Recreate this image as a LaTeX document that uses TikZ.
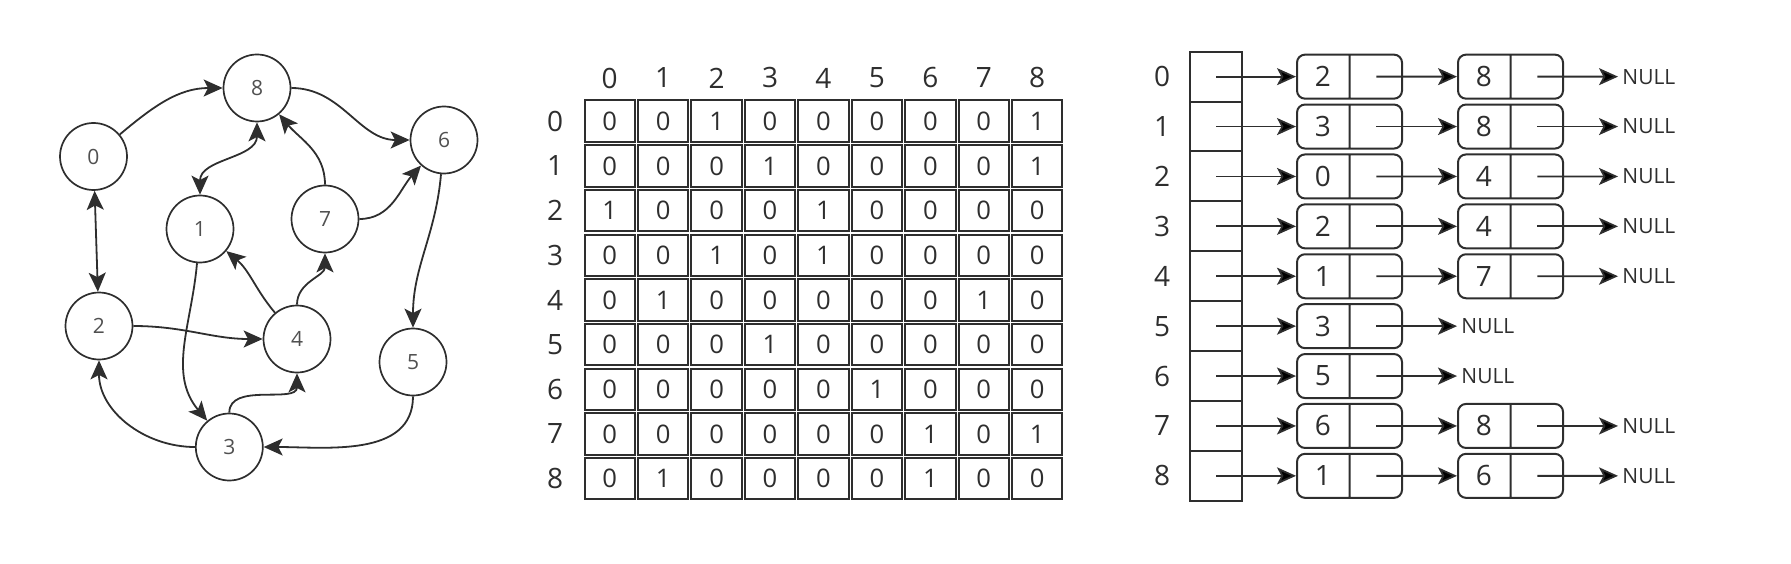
\documentclass[tikz,border=0pt]{standalone}
\usepackage{fontspec}
\setmainfont{Open Sans}
\usetikzlibrary{arrows.meta}
\usetikzlibrary{shapes.multipart}
\usetikzlibrary{positioning}
\usetikzlibrary{calc}

\definecolor{ink}{HTML}{2E2E2E}
\definecolor{softink}{HTML}{505050}

\newcommand\graphfont{\fontsize{10.5}{12}\selectfont}
\newcommand\cellfont{\fontsize{12.8}{14}\selectfont}
\newcommand\indexfont{\fontsize{14}{16}\selectfont}
\newcommand\nilfont{\fontsize{10.5}{12}\selectfont}

\begin{document}
\begin{tikzpicture}[x=0.5pt,y=0.5pt,>={Stealth[length=9.5pt,width=8.5pt,inset=2.2pt]}]
        \tikzstyle{vertex}=[draw=ink, line width=0.85pt, circle, minimum size=33.5pt, inner sep=0pt, text=softink, font=\graphfont]
        \tikzstyle{arc}=[->, draw=ink, line width=0.9pt]
        \tikzstyle{cell}=[draw=ink, line width=1pt, minimum width=25.2pt, minimum height=20.8pt, inner sep=0pt, text=ink, font=\cellfont]
        \tikzstyle{index}=[inner sep=0pt, text=ink, font=\indexfont]
        \tikzstyle{slot}=[draw=ink, line width=1pt, minimum width=26pt, minimum height=24.95pt, inner sep=0pt]
        \tikzstyle{lnode}=[draw=ink, line width=1pt, rounded corners=4pt, rectangle split, rectangle split horizontal, rectangle split parts=2, inner xsep=0pt, inner ysep=0pt, text width=25.75pt, align=center, minimum height=22pt, text=ink, font=\indexfont]
        \tikzstyle{nil}=[inner sep=2pt, text=ink, font=\nilfont]
        \tikzstyle{link}=[->, draw=ink, line width=0.9pt]
        \useasboundingbox (0,0) rectangle (1791,563);

        % graph
        \node[vertex] (n0) at (93.5,406.5) {0};
        \node[vertex] (n8) at (257,475) {8};
        \node[vertex] (n6) at (444,423) {6};
        \node[vertex] (n1) at (200,334) {1};
        \node[vertex] (n7) at (325,344) {7};
        \node[vertex] (n2) at (99,237) {2};
        \node[vertex] (n4) at (297,224) {4};
        \node[vertex] (n5) at (413,201) {5};
        \node[vertex] (n3) at (229.3,116) {3};
        \draw[arc] (n0) to[out=40,in=180] (n8);
        \draw[arc,<->] (n0) -- (n2);
        \draw[arc,<->] (n8) to[out=-90,in=90] (n1);
        \draw[arc] (n8) to[out=0,in=180] (n6);
        \draw[arc] (n7) to[out=90,in=-50] (n8);
        \draw[arc] (n7) to[out=0,in=-132] (n6);
        \draw[arc] (n6) to[out=-95,in=90] (n5);
        \draw[arc] (n1) to[out=-95,in=130] (n3);
        \draw[arc] (n2) to[out=0,in=180] (n4);
        \draw[arc] (n4) to[out=130,in=-40] (n1);
        \draw[arc] (n4) to[out=90,in=-90] (n7);
        \draw[arc] (n3) to[out=180,in=-90] (n2);
        \draw[arc] (n3) to[out=90,in=-90] (n4);
        \draw[arc] (n5) to[out=-90,in=0] (n3);

        % adjacency matrix
        \foreach \j in {0,...,8} {
          \node[index] (c\j) at ({609.7+53.44*\j},485) {\j};
          \node[index] (r\j) at (555,{441.7-44.67*\j}) {\j};
        }
        \foreach \row [count=\i from 0] in {{0,0,1,0,0,0,0,0,1},{0,0,0,1,0,0,0,0,1},{1,0,0,0,1,0,0,0,0},{0,0,1,0,1,0,0,0,0},{0,1,0,0,0,0,0,1,0},{0,0,0,1,0,0,0,0,0},{0,0,0,0,0,1,0,0,0},{0,0,0,0,0,0,1,0,1},{0,1,0,0,0,0,1,0,0}} {
          \foreach \v [count=\j from 0] in \row
            \node[cell] (m\i\j) at ({609.7+53.44*\j},{441.7-44.67*\i}) {\v};
        }

        % adjacency list
        \foreach \i in {0,...,8} {
          \node[slot] (a\i) at (1216,{486.35-49.9*\i}) {};
          \node[index] (s\i) at (1162,{486.35-49.9*\i}) {\i};
        }
        \foreach \i/\va/\vb in {0/2/8,1/3/8,2/0/4,3/2/4,4/1/7,7/6/8,8/1/6} {
          \node[lnode, right=26.5pt of a\i] (p\i) {\va\nodepart{two}\phantom{0}};
          \node[lnode, right=27pt of p\i] (q\i) {\vb\nodepart{two}\phantom{0}};
          \node[nil, right=27pt of q\i] (z\i) {NULL};
          \draw[link] (a\i.center) -- (p\i);
          \draw[link] ($(p\i.center)!.5!(p\i.east)$) -- (q\i);
          \draw[link] ($(q\i.center)!.5!(q\i.east)$) -- (z\i);
        }
        \foreach \i/\va in {5/3,6/5} {
          \node[lnode, right=26.5pt of a\i] (p\i) {\va\nodepart{two}\phantom{0}};
          \node[nil, right=27pt of p\i] (z\i) {NULL};
          \draw[link] (a\i.center) -- (p\i);
          \draw[link] ($(p\i.center)!.5!(p\i.east)$) -- (z\i);
        }
      \end{tikzpicture}
\end{document}
